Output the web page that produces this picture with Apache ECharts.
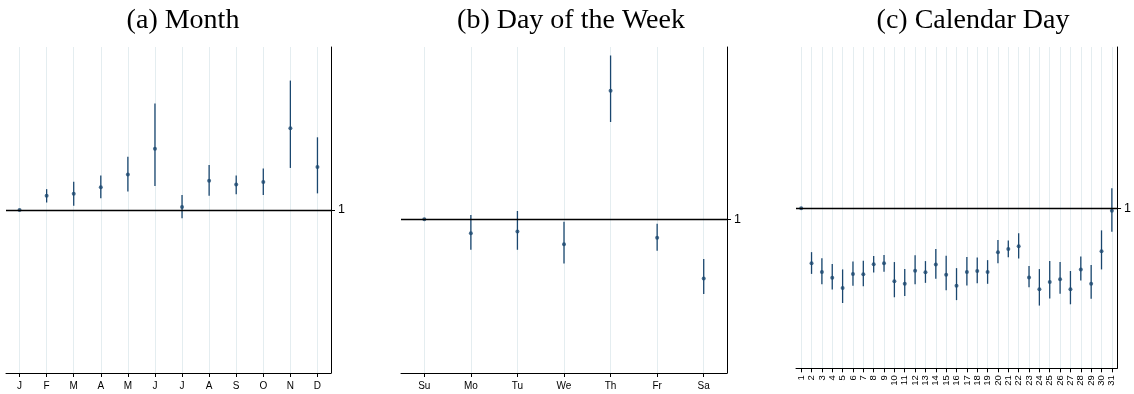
<!DOCTYPE html>
<html>
<head>
<meta charset="utf-8">
<script src="https://cdn.jsdelivr.net/npm/echarts@6/dist/echarts.min.js"></script>
<style>html,body{margin:0;padding:0;background:#fff}#c{width:1134px;height:394px}</style>
</head>
<body>
<div id="c"></div>
<script>
// ---- Panel (a) Month ----
const monthCats = ['J','F','M','A','M','J','J','A','S','O','N','D'];
const monthEst  = [1.000,1.044,1.050,1.070,1.109,1.188,1.009,1.090,1.078,1.086,1.251,1.132];
const monthLo   = [null ,1.023,1.013,1.036,1.057,1.074,0.975,1.044,1.048,1.046,1.129,1.051];
const monthHi   = [null ,1.064,1.087,1.106,1.163,1.327,1.046,1.138,1.106,1.127,1.397,1.223];

// ---- Panel (b) Day of the Week ----
const dowCats = ['Su','Mo','Tu','We','Th','Fr','Sa'];
const dowEst  = [1.000,0.957,0.962,0.923,1.394,0.943,0.818];
const dowLo   = [null ,0.906,0.906,0.864,1.298,0.903,0.770];
const dowHi   = [null ,1.013,1.025,0.992,1.502,0.986,0.878];

// ---- Panel (c) Calendar Day ----
const dayCats = ['1','2','3','4','5','6','7','8','9','10','11','12','13','14','15','16','17','18','19','20','21','22','23','24','25','26','27','28','29','30','31'];
const dayEst = [1.000,0.828,0.801,0.783,0.751,0.795,0.794,0.825,0.828,0.772,0.764,0.805,0.800,0.824,0.792,0.758,0.801,0.804,0.801,0.863,0.873,0.881,0.784,0.747,0.770,0.778,0.747,0.809,0.764,0.866,0.992];
const dayLo  = [null ,0.795,0.763,0.746,0.704,0.758,0.756,0.799,0.802,0.722,0.726,0.763,0.767,0.780,0.744,0.713,0.759,0.766,0.764,0.828,0.847,0.843,0.753,0.696,0.718,0.733,0.700,0.774,0.717,0.809,0.927];
const dayHi  = [null ,0.863,0.844,0.826,0.809,0.834,0.836,0.851,0.854,0.832,0.810,0.853,0.835,0.873,0.852,0.813,0.848,0.846,0.838,0.901,0.899,0.922,0.820,0.810,0.835,0.832,0.804,0.849,0.823,0.931,1.063];

const titles = ['(a) Month','(b) Day of the Week','(c) Calendar Day'];
const refValue = 1;

const NAVY = '#1a476f';
const GRID = '#e4edf0';
const SANS = '"Liberation Sans", Arial, sans-serif';

const panels = [
  {cats: monthCats, est: monthEst, lo: monthLo, hi: monthHi, grid:{left:6, top:47, width:325, height:326}, ymin:0.5, ymax:1.5, rotate:0, titleX:178},
  {cats: dowCats, est: dowEst, lo: dowLo, hi: dowHi, grid:{left:401, top:47, width:326, height:326}, ymin:0.528, ymax:1.528, rotate:0, titleX:566},
  {cats: dayCats, est: dayEst, lo: dayLo, hi: dayHi, grid:{left:796, top:47, width:325.7, height:321.3}, ymin:0.5, ymax:1.504, rotate:90, titleX:968}
];

const option = {
  animation: false,
  backgroundColor: '#fff',
  title: panels.map((p, i) => ({
    text: titles[i], left: p.titleX, top: 2, textAlign: 'center',
    textStyle: {fontFamily: '"Liberation Serif", "DejaVu Serif", serif', fontWeight: 'normal', fontSize: 28, color: '#000'}
  })),
  grid: panels.map(p => p.grid),
  xAxis: panels.map((p, i) => ({
    type: 'category', gridIndex: i, data: p.cats, boundaryGap: true,
    axisLine: {show: true, lineStyle: {color: '#000', width: 1}},
    axisTick: {show: true, alignWithLabel: true, length: 4, lineStyle: {color: '#000', width: 1}},
    axisLabel: {show: true, interval: 0, rotate: p.rotate, margin: p.rotate ? 7 : 8, fontFamily: SANS, fontSize: p.rotate ? 9.5 : 10, color: '#000'},
    splitLine: {show: true, alignWithLabel: true, interval: 0, lineStyle: {color: GRID, width: 1}}
  })),
  yAxis: panels.map((p, i) => ({
    type: 'value', gridIndex: i, position: 'right', min: p.ymin, max: p.ymax,
    axisLine: {show: true, lineStyle: {color: '#000', width: 1}},
    axisTick: {show: true, length: 4, customValues: [refValue], lineStyle: {color: '#000', width: 1}},
    axisLabel: {show: true, customValues: [refValue], margin: 7, fontFamily: SANS, fontSize: 12.5, color: '#000'},
    splitLine: {show: false}
  })),
  series: []
};

panels.forEach((p, i) => {
  const ciData = p.cats.map((c, j) => [j, p.lo[j], p.hi[j]]).filter(d => d[1] !== null);
  option.series.push({
    type: 'custom', xAxisIndex: i, yAxisIndex: i, data: ciData, z: 3,
    renderItem: (params, api) => {
      const a = api.coord([api.value(0), api.value(1)]);
      const b = api.coord([api.value(0), api.value(2)]);
      return {type: 'line', shape: {x1: a[0], y1: a[1], x2: b[0], y2: b[1]}, style: {stroke: NAVY, lineWidth: 1.3}};
    }
  });
  option.series.push({
    type: 'scatter', xAxisIndex: i, yAxisIndex: i, z: 4,
    data: p.est.map((v, j) => [j, v]),
    symbol: 'circle', symbolSize: 4, itemStyle: {color: NAVY},
    markLine: {
      silent: true, symbol: ['none','none'], label: {show: false},
      lineStyle: {color: '#000', width: 1.3, type: 'solid'},
      data: [{yAxis: refValue}]
    }
  });
});

const chart = echarts.init(document.getElementById('c'), null, {renderer: 'canvas'});
chart.setOption(option);
</script>
</body>
</html>
